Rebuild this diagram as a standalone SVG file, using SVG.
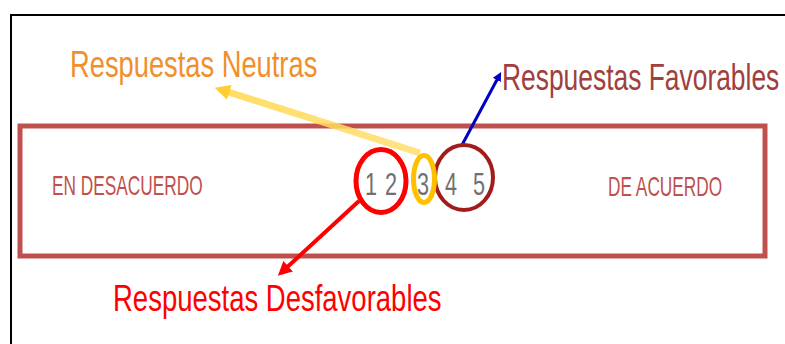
<svg xmlns="http://www.w3.org/2000/svg" width="785" height="344" viewBox="0 0 785 344">
<style>
text{font-family:"Liberation Sans",Arial,sans-serif}
.cap{fill:#c0504d;font-size:17.3px}
.dig{font-size:21.6px;fill:#707070;text-anchor:middle}
</style>
<defs>
<marker id="ay" viewBox="0 0 10 10" refX="5" refY="5" markerWidth="2.2" markerHeight="2.2" orient="auto"><path d="M0,0L10,5L0,10z" fill="#ffcc33"/></marker>
<marker id="ab" viewBox="0 0 10 10" refX="5" refY="5" markerWidth="3" markerHeight="3" orient="auto"><path d="M0,0L10,5L0,10z" fill="#0000c0"/></marker>
<marker id="ar" viewBox="0 0 10 10" refX="5" refY="5" markerWidth="3.5" markerHeight="3.5" orient="auto"><path d="M0,0L10,5L0,10z" fill="#ff0000"/></marker>
<linearGradient id="gy" x1="0" y1="0" x2="1" y2="0"><stop offset="0" stop-color="#ffd84a"/><stop offset="1" stop-color="#ffdf70"/></linearGradient>
</defs>
<rect width="785" height="344" fill="#fff"/>
<path d="M11,344V15H785" fill="none" stroke="#000" stroke-width="2"/>
<g id="scale-box"><rect x="20" y="126" width="745" height="130" fill="none" stroke="#c0504d" stroke-width="5"/></g>
<g id="left-label"><text class="cap" transform="translate(52,195) scale(1,1.62)">EN DESACUERDO</text></g>
<g id="right-label"><text class="cap" transform="translate(608,196) scale(1,1.62)">DE ACUERDO</text></g>
<g id="digits">
<text class="dig" transform="translate(371,195) scale(1,1.43)">1</text>
<text class="dig" transform="translate(391,195) scale(1,1.43)">2</text>
<text class="dig" transform="translate(423,195) scale(1,1.43)">3</text>
<text class="dig" transform="translate(451,195) scale(1,1.43)">4</text>
<text class="dig" transform="translate(479,195) scale(1,1.43)">5</text>
</g>
<g id="connectors">
<line x1="420" y1="153" x2="222" y2="90" stroke="url(#gy)" stroke-width="7" stroke-opacity="0.85" marker-end="url(#ay)"/>
<line x1="462" y1="145" x2="499" y2="76" stroke="#0000c0" stroke-width="3" marker-end="url(#ab)"/>
<line x1="359" y1="201" x2="283" y2="271" stroke="#ff0000" stroke-width="4" marker-end="url(#ar)"/>
</g>
<g id="desfavorables-circle"><ellipse cx="381" cy="181" rx="25" ry="31.5" fill="none" stroke="#ff0000" stroke-width="5"/></g>
<g id="favorables-circle"><ellipse cx="464" cy="177.5" rx="29" ry="32.5" fill="none" stroke="#a21c1c" stroke-width="4"/></g>
<g id="neutras-circle"><ellipse cx="424" cy="179" rx="10.5" ry="23.5" fill="none" stroke="#ffc000" stroke-width="5"/></g>
<g id="neutras-label"><text font-size="27.3" fill="#f0902c" transform="translate(70,77) scale(1,1.355)">Respuestas Neutras</text></g>
<g id="favorables-label"><text font-size="26.4" fill="#a0403c" transform="translate(502,90) scale(1,1.4)">Respuestas Favorables</text></g>
<g id="desfavorables-label"><text font-size="27.5" fill="#ff0000" transform="translate(113,311) scale(1,1.345)">Respuestas Desfavorables</text></g>
</svg>
